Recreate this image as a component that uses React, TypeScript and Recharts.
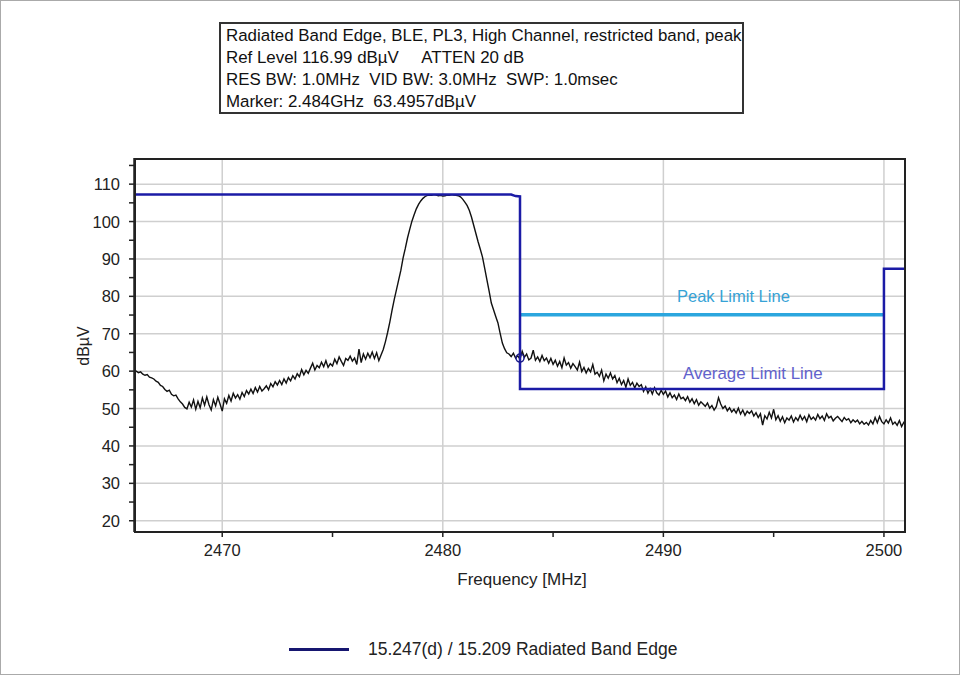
import React from 'react';
import { LineChart, Line, XAxis, YAxis, CartesianGrid, ReferenceDot } from 'recharts';

// sweep grid of the analyzer trace
const freqStart = 2466;
const freqStep = 0.1;

// trace levels in dBµV, one per 0.1 MHz from 2466.0 to 2501.0
const traceLevels = [
    60.3, 60.0, 59.6, 59.8, 59.2, 58.9, 59.1, 58.4, 58.2, 57.9, // 2466
    57.3, 57.0, 56.2, 55.9, 55.1, 54.6, 54.9, 53.8, 53.4, 53.6, // 2467
    52.6, 51.8, 51.2, 50.3, 49.9, 51.7, 50.4, 52.3, 49.8, 51.9, // 2468
    50.2, 52.8, 50.9, 53.1, 51.0, 49.6, 52.4, 50.7, 53.0, 51.2, // 2469
    49.3, 52.6, 51.4, 53.5, 52.0, 54.1, 52.8, 53.7, 52.5, 54.3, // 2470
    53.2, 54.8, 53.9, 55.2, 54.0, 55.6, 54.4, 55.9, 54.7, 55.3, // 2471
    56.1, 55.0, 56.7, 55.8, 57.2, 56.3, 57.5, 56.4, 57.9, 56.8, // 2472
    58.3, 57.4, 58.8, 57.9, 59.3, 58.5, 60.4, 59.0, 60.2, 59.4, // 2473
    60.8, 62.1, 60.3, 61.5, 60.9, 62.4, 61.2, 62.8, 61.0, 62.0, // 2474
    61.4, 63.2, 62.0, 63.8, 62.6, 61.5, 63.4, 62.9, 64.0, 62.7, // 2475
    63.5, 61.8, 65.9, 62.3, 64.6, 63.2, 64.8, 63.6, 65.1, 63.4, // 2476
    64.9, 62.8, 64.3, 65.8, 67.9, 70.4, 73.2, 76.3, 79.2, 81.8, // 2477
    84.4, 87.0, 90.3, 92.8, 95.6, 97.9, 100.1, 101.8, 103.4, 104.6, // 2478
    105.5, 106.2, 106.7, 107.0, 107.1, 107.0, 107.2, 107.1, 106.9, 107.0, // 2479
    106.8, 106.9, 107.1, 107.0, 107.2, 107.1, 107.0, 106.9, 106.6, 106.0, // 2480
    105.2, 104.3, 103.0, 101.2, 99.0, 96.8, 94.6, 92.6, 90.5, 87.5, // 2481
    84.4, 81.4, 78.2, 76.4, 74.6, 72.9, 70.1, 67.5, 66.0, 64.9, // 2482
    64.6, 63.9, 64.8, 63.5, 64.1, 63.2, 65.3, 63.7, 64.6, 63.0, // 2483
    63.5, 65.6, 62.9, 63.8, 62.6, 64.2, 62.8, 63.5, 62.1, 63.4, // 2484
    61.8, 62.9, 61.3, 62.6, 60.9, 63.5, 61.6, 62.3, 60.8, 62.0, // 2485
    61.2, 60.3, 62.4, 59.9, 61.0, 59.5, 60.7, 59.8, 61.8, 59.2, // 2486
    59.7, 58.6, 60.3, 57.4, 59.2, 58.1, 59.5, 57.9, 58.8, 56.9, // 2487
    58.1, 56.4, 57.5, 55.7, 57.9, 56.2, 57.0, 55.5, 56.8, 55.9, // 2488
    56.4, 54.6, 55.8, 54.1, 55.3, 53.9, 55.6, 54.2, 53.6, 54.9, // 2489
    53.8, 54.7, 53.1, 54.2, 52.9, 53.6, 52.4, 53.9, 52.6, 53.0, // 2490
    52.1, 53.2, 51.7, 52.6, 51.3, 52.4, 50.9, 51.8, 51.2, 50.6, // 2491
    51.5, 50.1, 50.8, 49.6, 50.5, 52.9, 51.2, 50.0, 50.7, 49.4, // 2492
    50.2, 49.1, 49.8, 48.8, 50.1, 48.5, 49.6, 48.2, 49.3, 48.7, // 2493
    49.4, 48.0, 48.9, 47.6, 48.6, 45.6, 48.1, 47.2, 49.0, 47.5, // 2494
    49.8, 47.0, 48.1, 46.6, 47.8, 46.2, 47.5, 46.9, 48.0, 46.4, // 2495
    47.6, 46.8, 48.2, 47.0, 47.9, 46.5, 48.3, 47.1, 47.7, 46.9, // 2496
    48.4, 47.3, 48.0, 46.8, 48.6, 47.5, 47.9, 46.7, 47.4, 47.9, // 2497
    47.2, 46.5, 47.6, 46.9, 47.3, 46.2, 47.0, 46.4, 46.9, 45.9, // 2498
    46.6, 45.8, 46.3, 45.6, 46.8, 45.9, 47.6, 46.2, 47.9, 46.5, // 2499
    45.9, 47.0, 46.1, 47.5, 45.8, 46.4, 45.5, 46.8, 45.2, 46.3, // 2500
    45.8,
];

// restricted band limit (average) and peak limit
const avgLimitFreqs = [2466, 2483.1, 2483.3, 2483.5, 2483.5, 2500, 2500, 2501];
const avgLimitLevels = [107.2, 107.2, 106.8, 106.7, 55.2, 55.2, 87.4, 87.4];
const peakLimitFreqs = [2483.5, 2500];
const peakLimitLevels = [75.1, 75.1];

const markerFreq = 2483.5;
const markerLevel = 63.5;

const xTicks = [2470, 2475, 2480, 2485, 2490, 2495, 2500];
const xMajor = [2470, 2480, 2490, 2500];
const yTicks = [20, 25, 30, 35, 40, 45, 50, 55, 60, 65, 70, 75, 80, 85, 90, 95, 100, 105, 110, 115];
const yMajor = [20, 30, 40, 50, 60, 70, 80, 90, 100, 110];

const headerLines = [
    'Radiated Band Edge, BLE, PL3, High Channel, restricted band, peak',
    'Ref Level 116.99 dBµV     ATTEN 20 dB',
    'RES BW: 1.0MHz  VID BW: 3.0MHz  SWP: 1.0msec',
    'Marker: 2.484GHz  63.4957dBµV',
];

const traceRows = traceLevels.map((v, i) => ({ f: +(freqStart + i * freqStep).toFixed(1), v }));
const avgRows = avgLimitFreqs.map((f, i) => ({ f, v: avgLimitLevels[i] }));
const peakRows = peakLimitFreqs.map((f, i) => ({ f, v: peakLimitLevels[i] }));

const font = '"Liberation Sans", Arial, sans-serif';

const XTick = (props: any) => {
    const { x, y, payload } = props;
    if (!xMajor.includes(payload.value)) return null;
    return (
        <text x={x} y={y + 17} textAnchor="middle" fontSize={16.5} fill="#222" fontFamily={font}>
            {payload.value}
        </text>
    );
};

const YTick = (props: any) => {
    const { x, y, payload } = props;
    if (!yMajor.includes(payload.value)) return null;
    return (
        <text x={x - 7} y={y + 6} textAnchor="end" fontSize={16.5} fill="#222" fontFamily={font}>
            {payload.value}
        </text>
    );
};

export default function App() {
    return (
        <div style={{ position: 'fixed', left: 0, top: 0, width: 960, height: 675, background: '#fff', fontFamily: font, boxSizing: 'border-box', border: '1px solid #aaa' }}>
            <div style={{ position: 'absolute', left: 0, top: 0 }}>
                <LineChart width={958} height={673} margin={{ top: 157, right: 53, bottom: 112, left: 73 }}>
                    <CartesianGrid stroke="#cfcfcf" strokeWidth={1.5} horizontalValues={yMajor} verticalValues={xMajor} />
                    <XAxis
                        type="number"
                        dataKey="f"
                        domain={[2466, 2501]}
                        ticks={xTicks}
                        interval={0}
                        allowDataOverflow
                        height={30}
                        tickSize={5}
                        stroke="#222"
                        strokeWidth={1.5}
                        tick={<XTick />}
                    />
                    <YAxis
                        type="number"
                        domain={[16.99, 116.99]}
                        ticks={yTicks}
                        interval={0}
                        allowDataOverflow
                        width={60}
                        tickSize={5}
                        stroke="#222"
                        strokeWidth={1.5}
                        tick={<YTick />}
                    />
                    <Line data={traceRows} dataKey="v" type="linear" stroke="#111" strokeWidth={1.4} dot={false} isAnimationActive={false} />
                    <Line data={peakRows} dataKey="v" type="linear" stroke="#2ba6de" strokeWidth={3.5} dot={false} isAnimationActive={false} />
                    <Line data={avgRows} dataKey="v" type="linear" stroke="#1b1ba6" strokeWidth={2.5} dot={false} isAnimationActive={false} />
                    <ReferenceDot x={markerFreq} y={markerLevel} r={4} fill="none" stroke="#1b1b8a" strokeWidth={1.5} />
                </LineChart>
            </div>

            {/* plot frame */}
            <div style={{ position: 'absolute', left: 133, top: 157, width: 772, height: 375, border: '2px solid #222', boxSizing: 'border-box', pointerEvents: 'none' }} />

            {/* info box */}
            <div style={{ position: 'absolute', left: 218, top: 21, width: 525, height: 92, border: '2px solid #333', boxSizing: 'border-box', padding: '1px 0 0 5px', fontSize: 16.9, lineHeight: '22px', color: '#111', whiteSpace: 'pre' }}>
                {headerLines.map((l) => (
                    <div key={l}>{l}</div>
                ))}
            </div>

            <div style={{ position: 'absolute', left: 676, top: 286, fontSize: 16.5, color: '#36a2d6' }}>Peak Limit Line</div>
            <div style={{ position: 'absolute', left: 682, top: 363, fontSize: 16.9, color: '#6262cc' }}>Average Limit Line</div>

            <div style={{ position: 'absolute', left: 83, top: 345, transform: 'translate(-50%, -50%) rotate(-90deg)', fontSize: 16, color: '#222' }}>dBµV</div>
            <div style={{ position: 'absolute', left: 521, top: 569, transform: 'translateX(-50%)', fontSize: 17, color: '#222', whiteSpace: 'nowrap' }}>Frequency [MHz]</div>

            {/* legend */}
            <div style={{ position: 'absolute', left: 288, top: 647, width: 60, height: 3, background: '#161670' }} />
            <div style={{ position: 'absolute', left: 367, top: 638, fontSize: 17.5, color: '#222', whiteSpace: 'nowrap' }}>15.247(d) / 15.209 Radiated Band Edge</div>
        </div>
    );
}
